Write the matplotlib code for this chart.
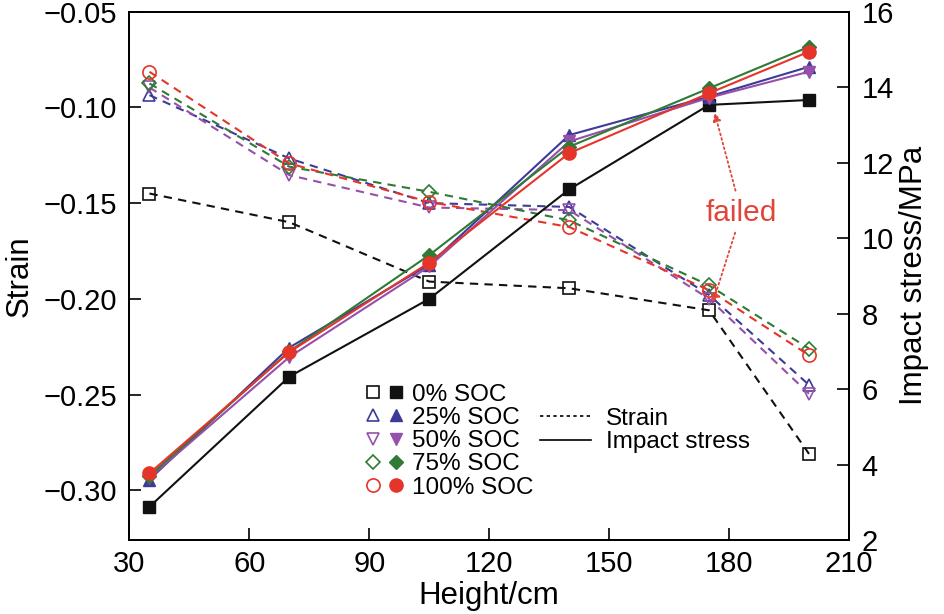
import matplotlib
matplotlib.use("Agg")
import matplotlib.pyplot as plt
from matplotlib.lines import Line2D
from matplotlib.legend_handler import HandlerTuple

plt.rcParams['font.family'] = ['Liberation Sans', 'DejaVu Sans']

height = [35, 70, 105, 140, 175, 200]

# strain (left axis)
strain_0 = [-0.145, -0.160, -0.191, -0.1945, -0.206, -0.281]
strain_25 = [-0.0936, -0.1267, -0.150, -0.152, -0.198, -0.245]
strain_50 = [-0.0896, -0.1354, -0.1523, -0.1537, -0.200, -0.2496]
strain_75 = [-0.0875, -0.131, -0.1441, -0.159, -0.193, -0.226]
strain_100 = [-0.0814, -0.1293, -0.1494, -0.1625, -0.1955, -0.2295]

# impact stress (right axis)
stress_0 = [2.88, 6.33, 8.39, 11.29, 13.53, 13.66]
stress_25 = [3.6, 7.1, 9.3, 12.73, 13.75, 14.54]
stress_50 = [3.65, 6.85, 9.25, 12.56, 13.72, 14.41]
stress_75 = [3.7, 7.0, 9.55, 12.42, 13.97, 15.07]
stress_100 = [3.77, 6.98, 9.35, 12.25, 13.84, 14.94]

labels = ["0% SOC", "25% SOC", "50% SOC", "75% SOC", "100% SOC"]
colors = ["#111111", "#3c3c98", "#9650aa", "#2f7a35", "#e5352b"]
markers = ["s", "^", "v", "D", "o"]
msizes = [8.5, 9, 9, 7, 9.5]

strains = [strain_0, strain_25, strain_50, strain_75, strain_100]
stresses = [stress_0, stress_25, stress_50, stress_75, stress_100]

fig = plt.figure(figsize=(9.45, 6.14), dpi=100)
ax = fig.add_subplot(111)
fig.subplots_adjust(left=0.137, right=0.8984, bottom=0.1205, top=0.981)
ax2 = ax.twinx()

handles = []
for s, c, m, ms in zip(strains, colors, markers, msizes):
    ax.plot(height, s, ls=(0, (4, 3)), lw=1.5, color=c, marker=m, ms=ms,
            mfc='none', mec=c, mew=1.2)

for t, c, m, ms in zip(stresses, colors, markers, msizes):
    ax2.plot(height, t, ls='-', lw=1.5, color=c, marker=m, ms=ms,
             mfc=c, mec=c)

for c, m, ms in zip(colors, markers, msizes):
    h_open = Line2D([], [], ls='none', marker=m, ms=ms, mfc='none', mec=c, mew=1.2)
    h_fill = Line2D([], [], ls='none', marker=m, ms=ms, mfc=c, mec=c)
    handles.append((h_open, h_fill))

ax.set_xlim(30, 210)
ax.set_ylim(-0.326, -0.05)
ax2.set_ylim(2, 16)
ax.set_xticks([30, 60, 90, 120, 150, 180, 210])
ax.set_yticks([-0.30, -0.25, -0.20, -0.15, -0.10, -0.05])
ax2.set_yticks([2, 4, 6, 8, 10, 12, 14, 16])
ax.set_yticklabels(["\u22120.30", "\u22120.25", "\u22120.20", "\u22120.15", "\u22120.10", "\u22120.05"])

for a in (ax, ax2):
    for sp in a.spines.values():
        sp.set_linewidth(1.3)
ax.tick_params(axis='x', direction='in', length=8.5, width=1.2, labelsize=21, pad=7)
ax.tick_params(axis='y', direction='in', length=8.5, width=1.2, labelsize=21, pad=9)
ax2.tick_params(axis='y', direction='in', length=8.5, width=1.2, labelsize=21, pad=9)

ax.set_xlabel("Height/cm", fontsize=22.5, labelpad=2)
ax.set_ylabel("Strain", fontsize=22.5, labelpad=6)
ax2.set_ylabel("Impact stress/MPa", fontsize=22.5, labelpad=4)

red = "#e0453a"
ax2.annotate("failed", xy=(176.4, 13.32), xytext=(183.1, 10.67),
             ha='center', va='center', fontsize=21.5, color=red,
             arrowprops=dict(arrowstyle='-|>', ls=':', lw=1.3, color=red,
                             mutation_scale=12, shrinkA=4, shrinkB=0))
ax2.annotate("", xy=(175.9, 8.28), xytext=(183.1, 10.67),
             arrowprops=dict(arrowstyle='-|>', ls=':', lw=1.3, color=red,
                             mutation_scale=12, shrinkA=15, shrinkB=0))

leg1 = ax2.legend(handles, labels, handler_map={tuple: HandlerTuple(ndivide=None, pad=0)},
                  loc='upper left', bbox_to_anchor=(0.323, 0.296), frameon=False,
                  fontsize=17.5, handlelength=1.85, handletextpad=0.2,
                  labelspacing=0.05, borderpad=0, borderaxespad=0)
ax2.add_artist(leg1)

line_h = [Line2D([], [], color='black', ls=(0, (2, 2)), lw=1.2),
          Line2D([], [], color='black', ls='-', lw=1.2)]
ax2.legend(line_h, ["Strain", "Impact stress"], loc='upper left',
           bbox_to_anchor=(0.5705, 0.25), frameon=False, fontsize=17.5,
           handlelength=2.1, handletextpad=0.6, labelspacing=0.05,
           borderpad=0, borderaxespad=0)

fig.savefig("out.png", dpi=100)
